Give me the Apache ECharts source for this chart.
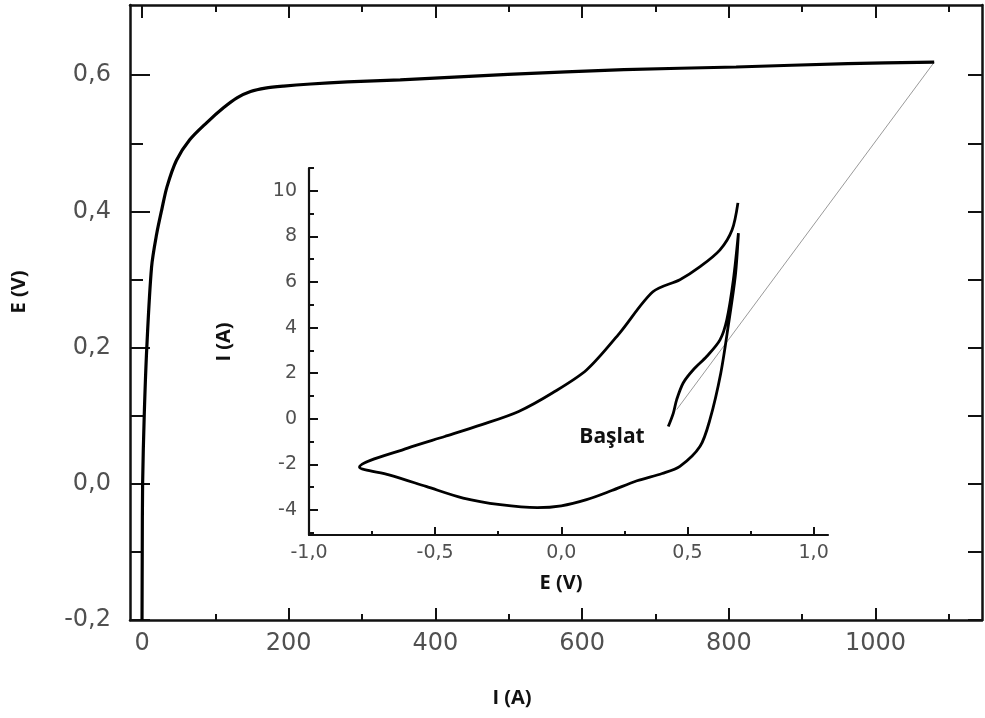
<!DOCTYPE html>
<html>
<head>
<meta charset="utf-8">
<script src="https://cdn.jsdelivr.net/npm/echarts@6/dist/echarts.min.js"></script>
<style>
html,body{margin:0;padding:0;background:#fff;}
#chart{width:985px;height:718px;}
</style>
</head>
<body>
<div id="chart"></div>
<script>
// ---- Main curve: I (A) vs E (V)
const mainCurrent = [0, 0.3, 0.8, 3, 6.5, 13, 20, 27, 34, 47, 65, 88, 111, 130, 148, 168, 193, 230, 280, 352, 499, 657, 810, 962, 1080];
const mainPotential = [-0.2, -0.1, 0.0, 0.1, 0.2, 0.318, 0.367, 0.403, 0.436, 0.475, 0.505, 0.530, 0.552, 0.567, 0.576, 0.581, 0.584, 0.587, 0.590, 0.593, 0.601, 0.608, 0.612, 0.617, 0.619];

// ---- Thin guide line (main axes: I (A), E (V))
const guideCurrent = [729, 1080];
const guidePotential = [0.109, 0.619];

// ---- Inset cyclic curve: E (V) vs I (A)
const insetPotential = [0.424, 0.444, 0.457, 0.483, 0.523, 0.576, 0.629, 0.656, 0.682, 0.702,
  0.690, 0.662, 0.632, 0.589, 0.55, 0.47, 0.40, 0.30, 0.20, 0.10, 0.0, -0.095, -0.242, -0.389, -0.536, -0.683, -0.80,
  -0.609, -0.462, -0.315, -0.169, -0.034, 0.101, 0.232, 0.363, 0.47, 0.55, 0.629, 0.677, 0.700];
const insetCurrent = [-0.34, 0.25, 0.83, 1.57, 2.15, 2.73, 3.46, 4.34, 6.1, 8.14,
  6.3, 4.1, 2.0, -0.04, -1.21, -2.09, -2.4, -2.72, -3.15, -3.55, -3.82, -3.9, -3.77, -3.48, -2.97, -2.46, -2.12,
  -1.29, -0.78, -0.26, 0.32, 1.14, 2.15, 3.77, 5.57, 6.1, 6.67, 7.41, 8.29, 9.47];

// ---- Tick values
const mainXMajor = [0, 200, 400, 600, 800, 1000];
const mainXMinor = [100, 300, 500, 700, 900, 1100];
const mainYMajor = [-0.2, 0.0, 0.2, 0.4, 0.6];
const mainYMinor = [-0.1, 0.1, 0.3, 0.5];
const insetXMajor = [-1.0, -0.5, 0.0, 0.5, 1.0];
const insetXMinor = [-0.75, -0.25, 0.25, 0.75];
const insetYMajor = [-4, -2, 0, 2, 4, 6, 8, 10];
const insetYMinor = [-5, -3, -1, 1, 3, 5, 7, 9, 11];

const zip = (a, b) => a.map((v, i) => [v, b[i]]);
const comma = v => (Math.abs(v) < 1e-9 ? 0 : v).toFixed(1).replace('.', ',');
const plain = v => String(Math.round(v));

const AX = '#111';
const LBL = '#505050';
function ax(o) {
  const lineShow = !!o.line;
  return {
    type: 'value',
    gridIndex: o.grid,
    min: o.min,
    max: o.max,
    position: o.pos,
    splitLine: { show: false },
    axisLine: { show: lineShow, onZero: false, lineStyle: { color: AX, width: o.lw || 2.5 } },
    axisTick: { show: true, inside: true, length: o.tl, customValues: o.ticks, lineStyle: { color: AX, width: 2 } },
    axisLabel: o.labels ? Object.assign({ show: true, customValues: o.labels, fontFamily: 'DejaVu Sans', color: LBL }, o.label) : { show: false }
  };
}

const chart = echarts.init(document.getElementById('chart'), null, { renderer: 'canvas' });

const option = {
  animation: false,
  backgroundColor: '#fff',
  grid: [
    { left: 130, right: 3, top: 5, bottom: 98, containLabel: false, outerBoundsMode: 'none' },
    { left: 309, right: 157, top: 168, bottom: 183, containLabel: false, outerBoundsMode: 'none' }
  ],
  xAxis: [
    ax({ grid: 0, min: -16.4, max: 1145.2, pos: 'bottom', line: true, tl: 12, ticks: mainXMajor,
      labels: mainXMajor, label: { margin: 12, fontSize: 24, formatter: plain } }),
    ax({ grid: 0, min: -16.4, max: 1145.2, pos: 'bottom', tl: 6, ticks: mainXMinor }),
    ax({ grid: 0, min: -16.4, max: 1145.2, pos: 'top', line: true, tl: 13, ticks: mainXMajor }),
    ax({ grid: 0, min: -16.4, max: 1145.2, pos: 'top', tl: 7, ticks: mainXMinor }),
    ax({ grid: 1, min: -1.0, max: 1.057, pos: 'bottom', line: true, lw: 2.2, tl: 8, ticks: insetXMajor,
      labels: insetXMajor, label: { margin: 9, fontSize: 19, formatter: comma } }),
    ax({ grid: 1, min: -1.0, max: 1.057, pos: 'bottom', tl: 4, ticks: insetXMinor })
  ],
  yAxis: [
    ax({ grid: 0, min: -0.2, max: 0.703, pos: 'left', line: true, tl: 20, ticks: mainYMajor,
      labels: mainYMajor, label: { margin: 19, fontSize: 24, formatter: comma } }),
    ax({ grid: 0, min: -0.2, max: 0.703, pos: 'left', tl: 13, ticks: mainYMinor }),
    ax({ grid: 0, min: -0.2, max: 0.703, pos: 'right', line: true, tl: 14, ticks: mainYMajor.concat(mainYMinor) }),
    ax({ grid: 1, min: -5.1, max: 11, pos: 'left', line: true, lw: 2.2, tl: 9, ticks: insetYMajor,
      labels: insetYMajor, label: { margin: 12, fontSize: 19, formatter: plain } }),
    ax({ grid: 1, min: -5.1, max: 11, pos: 'left', tl: 5, ticks: insetYMinor })
  ],
  series: [
    { type: 'line', xAxisIndex: 0, yAxisIndex: 0, data: zip(guideCurrent, guidePotential),
      showSymbol: false, symbol: 'none', lineStyle: { color: '#9a9a9a', width: 1 }, z: 1, silent: true },
    { type: 'line', xAxisIndex: 0, yAxisIndex: 0, data: zip(mainCurrent, mainPotential),
      showSymbol: false, symbol: 'none', smooth: 0.3, lineStyle: { color: '#000', width: 3.2 }, z: 3 },
    { type: 'line', xAxisIndex: 4, yAxisIndex: 3, data: zip(insetPotential, insetCurrent), clip: false,
      showSymbol: false, symbol: 'none', smooth: 0.3, lineStyle: { color: '#000', width: 2.8 }, z: 3 }
  ],
  graphic: [
    { type: 'text', x: 19, y: 292, rotation: Math.PI / 2,
      style: { text: 'E (V)', font: 'bold 20px "Open Sans"', fill: '#111', align: 'center', verticalAlign: 'middle' } },
    { type: 'text', x: 512, y: 698,
      style: { text: 'I (A)', font: 'bold 20px "Open Sans"', fill: '#111', align: 'center', verticalAlign: 'middle' } },
    { type: 'text', x: 224, y: 342, rotation: Math.PI / 2,
      style: { text: 'I (A)', font: 'bold 20px "Open Sans"', fill: '#111', align: 'center', verticalAlign: 'middle' } },
    { type: 'text', x: 561, y: 583,
      style: { text: 'E (V)', font: 'bold 20px "Open Sans"', fill: '#111', align: 'center', verticalAlign: 'middle' } },
    { type: 'text', x: 612, y: 437,
      style: { text: 'Başlat', font: 'bold 21px "Open Sans"', fill: '#111', align: 'center', verticalAlign: 'middle' } }
  ]
};
chart.setOption(option);
</script>
</body>
</html>
